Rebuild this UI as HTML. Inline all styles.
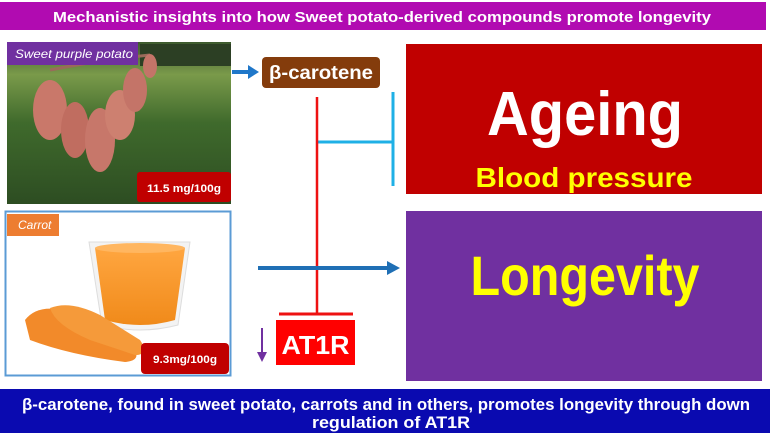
<!DOCTYPE html>
<html><head><meta charset="utf-8"><style>
html,body{margin:0;padding:0;background:#fff;}
svg{display:block;}
text{font-family:"Liberation Sans",sans-serif;font-weight:bold;}
</style></head><body>
<svg width="770" height="433" viewBox="0 0 770 433" xmlns="http://www.w3.org/2000/svg">
<defs>
<linearGradient id="field" x1="0" y1="0" x2="0" y2="1">
<stop offset="0" stop-color="#3d5a2e"/><stop offset="0.2" stop-color="#7a9a4a"/><stop offset="0.5" stop-color="#3f6a2c"/><stop offset="1" stop-color="#2d4d22"/>
</linearGradient>
<linearGradient id="juice" x1="0" y1="0" x2="0" y2="1">
<stop offset="0" stop-color="#ffa640"/><stop offset="1" stop-color="#f08a1a"/>
</linearGradient>
</defs>
<!-- title bar -->
<rect x="0" y="2" width="766" height="28" fill="#b10bb1"/>
<text x="382" y="22" fill="#fff" font-size="15" text-anchor="middle" textLength="658" lengthAdjust="spacingAndGlyphs">Mechanistic insights into how Sweet potato-derived compounds promote longevity</text>

<!-- sweet potato photo -->
<rect x="7" y="42" width="224" height="162" fill="url(#field)"/>
<rect x="140" y="44" width="91" height="22" fill="#2c3f24"/>
<path d="M50 70 Q100 60 150 55" stroke="#9a6a5a" stroke-width="3" fill="none"/>
<ellipse cx="50" cy="110" rx="17" ry="30" fill="#c9786a"/>
<ellipse cx="75" cy="130" rx="14" ry="28" fill="#c06d60"/>
<ellipse cx="100" cy="140" rx="15" ry="32" fill="#c7776a"/>
<ellipse cx="120" cy="115" rx="15" ry="25" fill="#cd8070"/>
<ellipse cx="135" cy="90" rx="12" ry="22" fill="#c47468"/>
<ellipse cx="150" cy="66" rx="7" ry="12" fill="#c47468"/>
<rect x="7" y="42" width="131" height="23" fill="#7030a0"/>
<text x="15" y="58" fill="#fff" font-size="12" font-style="italic" font-weight="normal" textLength="118" lengthAdjust="spacingAndGlyphs" style="font-weight:normal">Sweet purple potato</text>
<rect x="137" y="172" width="94" height="30" rx="3" fill="#c00000"/>
<text x="184" y="192" fill="#fff" font-size="11" text-anchor="middle" textLength="74" lengthAdjust="spacingAndGlyphs">11.5 mg/100g</text>

<!-- carrot box -->
<rect x="5.5" y="211.5" width="225" height="164" fill="#fff" stroke="#5b9bd5" stroke-width="2"/>
<rect x="7" y="214" width="52" height="22" fill="#ed7d31"/>
<text x="18" y="229" fill="#fff" font-size="12" font-style="italic" style="font-weight:normal">Carrot</text>
<path d="M89 242 L190 242 L178 325 Q140 335 102 325 Z" fill="#f3f3f3" stroke="#ddd"/>
<path d="M95 248 L185 248 L175 320 Q140 330 105 320 Z" fill="url(#juice)"/>
<ellipse cx="140" cy="248" rx="45" ry="5" fill="#ffb660"/>
<path d="M25 320 Q40 300 80 315 L130 345 Q145 360 125 362 Q70 355 30 340 Z" fill="#f28a2a"/>
<path d="M50 308 Q70 300 100 315 L140 340 Q150 355 135 355 L90 340 Q55 325 50 308 Z" fill="#f59a3a"/>
<rect x="141" y="343" width="88" height="31" rx="4" fill="#c00000"/>
<text x="185" y="363" fill="#fff" font-size="11" text-anchor="middle" textLength="64" lengthAdjust="spacingAndGlyphs">9.3mg/100g</text>

<!-- arrow to beta-carotene -->
<line x1="232" y1="72" x2="250" y2="72" stroke="#1f77c9" stroke-width="4"/>
<polygon points="248,65 259,72 248,79" fill="#1f77c9"/>
<rect x="262" y="57" width="118" height="31" rx="4" fill="#843c0c"/>
<text x="321" y="79" fill="#fff" font-size="19" text-anchor="middle" textLength="104" lengthAdjust="spacingAndGlyphs">β-carotene</text>

<!-- cyan inhibition -->
<line x1="318" y1="142" x2="393" y2="142" stroke="#1fb0e6" stroke-width="3"/>
<line x1="393" y1="92" x2="393" y2="186" stroke="#1fb0e6" stroke-width="3"/>

<!-- red inhibition -->
<line x1="317" y1="97" x2="317" y2="314" stroke="#ee1111" stroke-width="2.5"/>
<line x1="279" y1="314" x2="353" y2="314" stroke="#ee1111" stroke-width="3"/>
<rect x="276" y="320" width="79" height="45" fill="#ff0000"/>
<text x="315.5" y="354" fill="#fff" font-size="26" text-anchor="middle" textLength="68" lengthAdjust="spacingAndGlyphs">AT1R</text>
<line x1="262" y1="328" x2="262" y2="356" stroke="#7030a0" stroke-width="2"/>
<polygon points="257,352 262,362 267,352" fill="#7030a0"/>

<!-- longevity arrow -->
<line x1="258" y1="268" x2="390" y2="268" stroke="#1f6fb5" stroke-width="4"/>
<polygon points="387,261 400,268 387,275" fill="#1f6fb5"/>

<!-- Ageing box -->
<rect x="406" y="44" width="356" height="150" fill="#c00000"/>
<text x="585" y="135" fill="#fff" font-size="62" text-anchor="middle" textLength="196" lengthAdjust="spacingAndGlyphs">Ageing</text>
<text x="584" y="187" fill="#ffff00" font-size="28" text-anchor="middle" textLength="217" lengthAdjust="spacingAndGlyphs">Blood pressure</text>

<!-- Longevity box -->
<rect x="406" y="211" width="356" height="170" fill="#7030a0"/>
<text x="585" y="295" fill="#ffff00" font-size="56" text-anchor="middle" textLength="229" lengthAdjust="spacingAndGlyphs">Longevity</text>

<!-- bottom bar -->
<rect x="0" y="389" width="770" height="44" fill="#0a0ab0"/>
<text x="386" y="410" fill="#fff" font-size="17" text-anchor="middle" textLength="728" lengthAdjust="spacingAndGlyphs">β-carotene, found in sweet potato, carrots and in others, promotes longevity through down</text>
<text x="391" y="428" fill="#fff" font-size="17" text-anchor="middle" textLength="158" lengthAdjust="spacingAndGlyphs">regulation of AT1R</text>
</svg>
</body></html>
